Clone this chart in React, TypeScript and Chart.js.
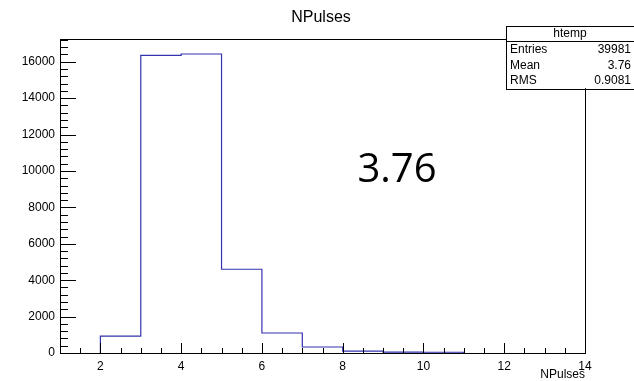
import React, { useEffect, useRef } from "react";
import { Chart, registerables } from "chart.js";

Chart.register(...registerables);

// Histogram of NPulses: bin low edges and counts (bin width 1)
const binEdges = [2, 3, 4, 5, 6, 7, 8, 9, 10];
const binCounts = [930, 16350, 16425, 4600, 1100, 330, 100, 50, 40];
const binWidth = 1;

const xMin = 1;
const xMax = 14;
const yMax = 17250;
const xTickValues = [2, 4, 6, 8, 10, 12, 14];
const yTickValues = [0, 2000, 4000, 6000, 8000, 10000, 12000, 14000, 16000];
const xMinorStep = 0.5;
const yMinorStep = 400;

const histTitle = "NPulses";
const xAxisTitle = "NPulses";
const statsName = "htemp";
const statsLabels = ["Entries", "Mean", "RMS"];
const statsValues = ["39981", "3.76", "0.9081"];
const annotationText = "3.76";

const FONT = "'Liberation Sans', Arial, Helvetica, sans-serif";

export default function App() {
  const canvasRef = useRef<HTMLCanvasElement | null>(null);

  useEffect(() => {
    document.body.style.margin = "0";
    const canvas = canvasRef.current;
    if (!canvas) return;

    const points: { x: number; y: number }[] = [{ x: binEdges[0], y: 0 }];
    binEdges.forEach((e, i) => points.push({ x: e, y: binCounts[i] }));
    points.push({ x: binEdges[binEdges.length - 1] + binWidth, y: 0 });

    const overlay = {
      id: "rootStyle",
      afterDraw(chart: any) {
        const ctx = chart.ctx as CanvasRenderingContext2D;
        const ca = chart.chartArea;
        const xs = chart.scales.x;
        const ys = chart.scales.y;
        ctx.save();
        ctx.strokeStyle = "#000";
        ctx.lineWidth = 1;
        // frame
        ctx.strokeRect(Math.round(ca.left) + 0.5, Math.round(ca.top) + 0.5, Math.round(ca.right - ca.left), Math.round(ca.bottom - ca.top));
        // y ticks (inward)
        const yMajorSet = new Set(yTickValues);
        ctx.beginPath();
        for (let v = 0; v <= yMax + 1e-6; v += yMinorStep) {
          const py = Math.round(ys.getPixelForValue(v)) + 0.5;
          const len = yMajorSet.has(Math.round(v)) ? 16 : 8;
          ctx.moveTo(ca.left, py);
          ctx.lineTo(ca.left + len, py);
        }
        // x ticks (inward)
        const xMajorSet = new Set(xTickValues);
        for (let v = xMin + xMinorStep; v <= xMax + 1e-6; v += xMinorStep) {
          const px = Math.round(xs.getPixelForValue(v)) + 0.5;
          const len = xMajorSet.has(v) ? 10 : 5;
          ctx.moveTo(px, ca.bottom);
          ctx.lineTo(px, ca.bottom - len);
        }
        ctx.stroke();

        // main title
        ctx.fillStyle = "#000";
        ctx.font = `16px ${FONT}`;
        ctx.textAlign = "center";
        ctx.textBaseline = "alphabetic";
        ctx.fillText(histTitle, 321, 22);

        // x axis title
        ctx.font = `12px ${FONT}`;
        ctx.textAlign = "right";
        ctx.textBaseline = "middle";
        ctx.fillText(xAxisTitle, ca.right, 375);

        // stats box
        const bx = 506, by = 25.5, bw = 131, bh = 62.7;
        const rowH = bh / 4;
        ctx.fillStyle = "#fff";
        ctx.fillRect(bx, by, bw, bh);
        ctx.strokeRect(bx + 0.5, Math.round(by) + 0.5, bw, Math.round(bh));
        ctx.beginPath();
        ctx.moveTo(bx, Math.round(by + rowH) + 0.5);
        ctx.lineTo(bx + bw, Math.round(by + rowH) + 0.5);
        ctx.stroke();
        ctx.fillStyle = "#000";
        ctx.font = `12px ${FONT}`;
        ctx.textAlign = "center";
        ctx.textBaseline = "middle";
        ctx.fillText(statsName, 570, by + rowH / 2 + 0.5);
        statsLabels.forEach((l, i) => {
          const ty = by + rowH * (i + 1.5) + 0.5;
          ctx.textAlign = "left";
          ctx.fillText(l, 510, ty);
          ctx.textAlign = "right";
          ctx.fillText(statsValues[i], 631, ty);
        });

        // annotation
        ctx.font = `40px 'Open Sans', ${FONT}`;
        ctx.textAlign = "center";
        ctx.textBaseline = "alphabetic";
        ctx.fillText(annotationText, 397, 182);
        ctx.restore();
      },
    };

    const chart = new Chart(canvas, {
      type: "line",
      data: {
        datasets: [
          {
            data: points,
            stepped: "before",
            borderColor: "#3333b0",
            borderWidth: 1.2,
            pointRadius: 0,
            fill: false,
          },
        ],
      },
      options: {
        animation: false,
        responsive: false,
        maintainAspectRatio: false,
        layout: { padding: { top: 39, right: 49, bottom: 0, left: 0 } },
        plugins: {
          legend: { display: false },
          tooltip: { enabled: false },
          title: { display: false },
        },
        scales: {
          x: {
            type: "linear",
            min: xMin,
            max: xMax,
            grid: { display: false, drawTicks: false },
            border: { display: false },
            afterBuildTicks: (s: any) => {
              s.ticks = xTickValues.map((v) => ({ value: v }));
            },
            ticks: {
              color: "#000",
              font: { family: FONT, size: 12 },
              padding: 6,
              maxRotation: 0,
              autoSkip: false,
              callback: (v: any) => String(v),
            },
            afterFit: (s: any) => {
              s.height = 28;
            },
          },
          y: {
            type: "linear",
            min: 0,
            max: yMax,
            grid: { display: false, drawTicks: false },
            border: { display: false },
            afterBuildTicks: (s: any) => {
              s.ticks = yTickValues.map((v) => ({ value: v }));
            },
            ticks: {
              color: "#000",
              font: { family: FONT, size: 12 },
              padding: 5,
              autoSkip: false,
              callback: (v: any) => String(v),
            },
            afterFit: (s: any) => {
              s.width = 60;
            },
          },
        },
      },
      plugins: [overlay],
    });
    return () => chart.destroy();
  }, []);

  return (
    <div style={{ width: 634, height: 381 }}>
      <canvas ref={canvasRef} width={634} height={381} style={{ display: "block" }} />
    </div>
  );
}
